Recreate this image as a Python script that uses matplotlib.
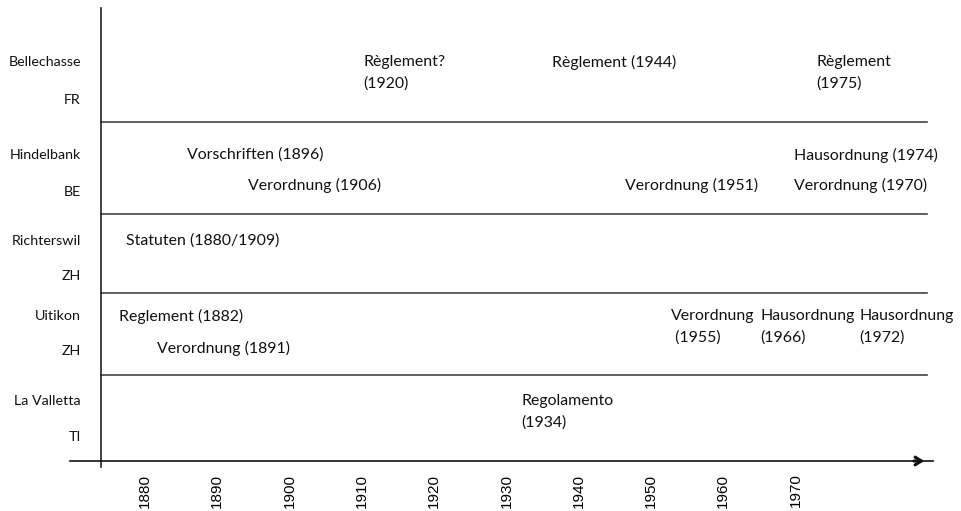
import matplotlib
matplotlib.use("Agg")
import matplotlib.pyplot as plt

# institutions (rows) and their cantons
anstalten = ['Bellechasse', 'Hindelbank', 'Richterswil', 'Uitikon', 'La Valletta']
kantone = ['FR', 'BE', 'ZH', 'ZH', 'TI']

# documents per row: label, row, where the label sits (in years)
dok_labels = ['Règlement?\n(1920)', 'Règlement (1944)', 'Règlement\n(1975)',
              'Vorschriften (1896)', 'Verordnung (1906)', 'Verordnung (1951)',
              'Hausordnung (1974)', 'Verordnung (1970)',
              'Statuten (1880/1909)',
              'Reglement (1882)', 'Verordnung (1891)', 'Verordnung\n (1955)',
              'Hausordnung\n(1966)', 'Hausordnung\n(1972)',
              'Regolamento\n(1934)']
dok_row = [0, 0, 0, 1, 1, 1, 1, 1, 2, 3, 3, 3, 3, 3, 4]
dok_x = [1910.2, 1936.3, 1972.9, 1885.8, 1894.2, 1946.4, 1969.8, 1969.8,
         1877.4, 1876.4, 1881.7, 1952.8, 1965.1, 1978.8, 1932.1]
dok_oben = [True, True, True, True, False, False, True, False,
            True, True, False, True, True, True, True]

jahre = list(range(1880, 1971, 10))

# layout (pixel-ish y units, top = 8, x-axis = 461)
row_bot = [122, 214, 293, 375, 461]
name_y = [62, 155, 241, 316, 401]
kanton_y = [100, 192, 276, 351, 437]
zweite_y = [185, 185, 185, 348, 0]

W, H = 961, 511
fig = plt.figure(figsize=(W / 100, H / 100), dpi=100)
ax = fig.add_axes([101 / W, 1 - 461 / H, (927 - 101) / W, (461 - 8) / H])
x0, x1 = 1873.9, 1988.2
ax.set_xlim(x0, x1)
ax.set_ylim(461, 8)
for s in ax.spines.values():
    s.set_visible(False)

fnt = 'Lato'

# row separators
for yb in row_bot[:-1]:
    ax.plot([x0, x1], [yb, yb], color='#444444', lw=1.2, clip_on=False)

# axes lines
ax.plot([x0, x0], [8, 467], color='#222222', lw=1.2, clip_on=False)
ax.plot([1869.6, 1989.0], [461, 461], color='#111111', lw=1.2, clip_on=False)
ax.annotate('', xy=(1988.2, 461), xytext=(1986.0, 461),
            arrowprops=dict(arrowstyle='->,head_length=0.45,head_width=0.28',
                            lw=2.2, color='#111111'),
            annotation_clip=False)

# row labels
for i in range(len(anstalten)):
    ax.text(-0.0245, name_y[i], anstalten[i], transform=ax.get_yaxis_transform(),
            ha='right', va='center', fontsize=10.3, family=fnt, color='#111111')
    ax.text(-0.0245, kanton_y[i], kantone[i], transform=ax.get_yaxis_transform(),
            ha='right', va='center', fontsize=10.3, family=fnt, color='#111111')

# documents
for lab, r, x, oben in zip(dok_labels, dok_row, dok_x, dok_oben):
    y = name_y[r] if oben else zweite_y[r]
    for k, zeile in enumerate(lab.split('\n')):
        ax.text(x, y + 22 * k, zeile, ha='left', va='center',
                fontsize=11.4, family=fnt, color='#111111')

ax.set_xticks(jahre)
ax.set_xticklabels([str(j) for j in jahre], rotation=90,
                   family='Liberation Sans', fontsize=11)
ax.tick_params(axis='x', length=0, pad=9)
ax.set_yticks([])

fig.savefig('out.png', dpi=100)
